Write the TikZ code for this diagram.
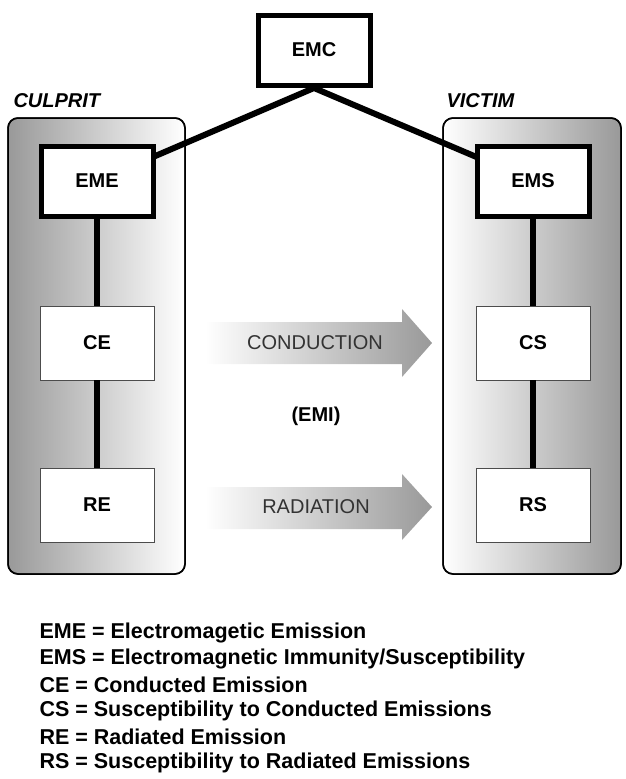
\documentclass[tikz,border=0pt]{standalone}
\usepackage{fontspec}
\setmainfont{Liberation Sans}
\begin{document}
\begin{tikzpicture}[x=1pt,y=-1pt,
  panel/.style={draw=black,line width=1.5pt,rounded corners=10pt},
  thick box/.style={draw=black,fill=white,line width=5pt,minimum width=112pt,minimum height=70pt,font=\bfseries\fontsize{20}{24}\selectfont},
  thin box/.style={draw=black!70,fill=white,line width=0.8pt,minimum width=114pt,minimum height=74pt,font=\bfseries\fontsize{20}{24}\selectfont},
  link/.style={line width=6pt,black},
  arr/.style={left color=white,right color=black!40,draw=none},
  leg/.style={anchor=west,font=\bfseries\fontsize{21.5}{24}\selectfont}]
\useasboundingbox (0,0) rectangle (626,779);
\fill[panel,left color=black!40,right color=white] (8,118) rectangle (185,574);
\draw[panel] (8,118) rectangle (185,574);
\fill[panel,left color=white,right color=black!40] (443,118) rectangle (621,574);
\draw[panel] (443,118) rectangle (621,574);
\node[anchor=west,font=\bfseries\itshape\fontsize{20}{24}\selectfont] (cul) at (10,101) {CULPRIT};
\node[anchor=west,font=\bfseries\itshape\fontsize{20}{24}\selectfont] (vic) at (443,101) {VICTIM};
\coordinate (top) at (314,88);
\path (314,50) coordinate (emcpos) (97,181) coordinate (emepos) (533,181) coordinate (emspos);
\node[thin box] (ce) at (97,343) {CE};
\node[thin box] (re) at (97,505) {RE};
\node[thin box] (cs) at (533,343) {CS};
\node[thin box] (rs) at (533,505) {RS};
\draw[link] (emepos) -- (ce.north);
\draw[link] (ce.south) -- (re.north);
\draw[link] (emspos) -- (cs.north);
\draw[link] (cs.south) -- (rs.north);
\draw[link,line join=miter] (emepos) -- (top) -- (emspos);
\node[thick box] (emc) at (emcpos) {EMC};
\node[thick box] (eme) at (emepos) {EME};
\node[thick box] (ems) at (emspos) {EMS};
\shade[arr] (205,322) -- (402,322) -- (402,309) -- (432,343) -- (402,377) -- (402,364) -- (205,364) -- cycle;
\shade[arr] (205,487) -- (402,487) -- (402,474) -- (432,507) -- (402,540) -- (402,529) -- (205,529) -- cycle;
\node[font=\fontsize{20}{24}\selectfont,text=black!80] (cond) at (315,343) {CONDUCTION};
\node[font=\fontsize{20}{24}\selectfont,text=black!80] (rad) at (316,507) {RADIATION};
\node[font=\bfseries\fontsize{20}{24}\selectfont] (emi) at (316,416) {(EMI)};
\node[leg] (l1) at (36,633) {EME = Electromagetic Emission};
\node[leg] (l2) at (36,659) {EMS = Electromagnetic Immunity/Susceptibility};
\node[leg] (l3) at (36,685) {CE = Conducted Emission};
\node[leg] (l4) at (36,711) {CS = Susceptibility to Conducted Emissions};
\node[leg] (l5) at (36,737) {RE = Radiated Emission};
\node[leg] (l6) at (36,763) {RS = Susceptibility to Radiated Emissions};
\end{tikzpicture}
\end{document}
